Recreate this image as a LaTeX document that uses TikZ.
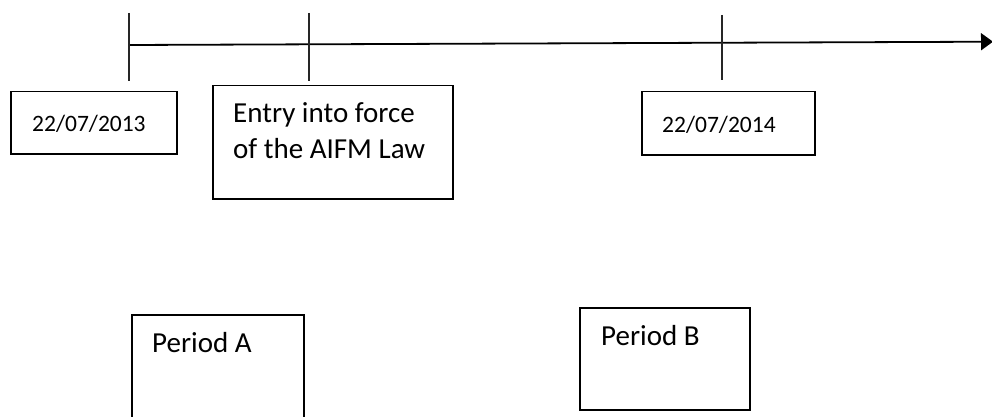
\documentclass[tikz,border=0pt]{standalone}
\usepackage{fontspec}
\setmainfont{Carlito}
\usetikzlibrary{arrows.meta}
\begin{document}
\begin{tikzpicture}[x=1pt,y=-1pt,
  boxstyle/.style={draw=black,line width=1.5pt,inner sep=0pt,anchor=north west},
  bigtext/.style={font=\fontsize{29}{35.5}\selectfont,inner sep=0pt,anchor=base west,align=left},
  datetext/.style={font=\fontsize{23.5}{28}\selectfont,inner sep=0pt,anchor=base west},
  tickline/.style={line width=1.2pt,black!85},
  axisline/.style={line width=1.8pt,-{Triangle[length=12pt,width=17pt]}}]
\useasboundingbox (0,0) rectangle (992,417);
\clip (0,0) rectangle (992,417);
% axis
\coordinate (axs) at (129,45);
\coordinate (axe) at (993,41.7);
\draw[axisline] (axs) -- (axe);
% ticks
\coordinate (t1a) at (129,13); \coordinate (t1b) at (129,81);
\coordinate (t2a) at (309,13); \coordinate (t2b) at (309,81);
\coordinate (t3a) at (722,15); \coordinate (t3b) at (722,80);
\draw[tickline] (t1a) -- (t1b);
\draw[tickline] (t2a) -- (t2b);
\draw[tickline] (t3a) -- (t3b);
% boxes
\node[boxstyle,minimum width=166pt,minimum height=62pt] (d13box) at (10,91) {};
\node[datetext] (d13) at (32,131.5) {22/07/2013};
\node[boxstyle,minimum width=240pt,minimum height=113pt] (entrybox) at (212,85) {};
\node[bigtext] (entry) at (233,158) {Entry into force\\of the AIFM Law};
\node[boxstyle,minimum width=173pt,minimum height=63pt] (d14box) at (641,91) {};
\node[datetext] (d14) at (662,132) {22/07/2014};
\node[boxstyle,minimum width=172pt,minimum height=130pt] (pabox) at (131,314) {};
\node[bigtext] (pa) at (152,352) {Period A};
\node[boxstyle,minimum width=170pt,minimum height=102pt] (pbbox) at (579,307) {};
\node[bigtext] (pb) at (601,345) {Period B};
\end{tikzpicture}
\end{document}
